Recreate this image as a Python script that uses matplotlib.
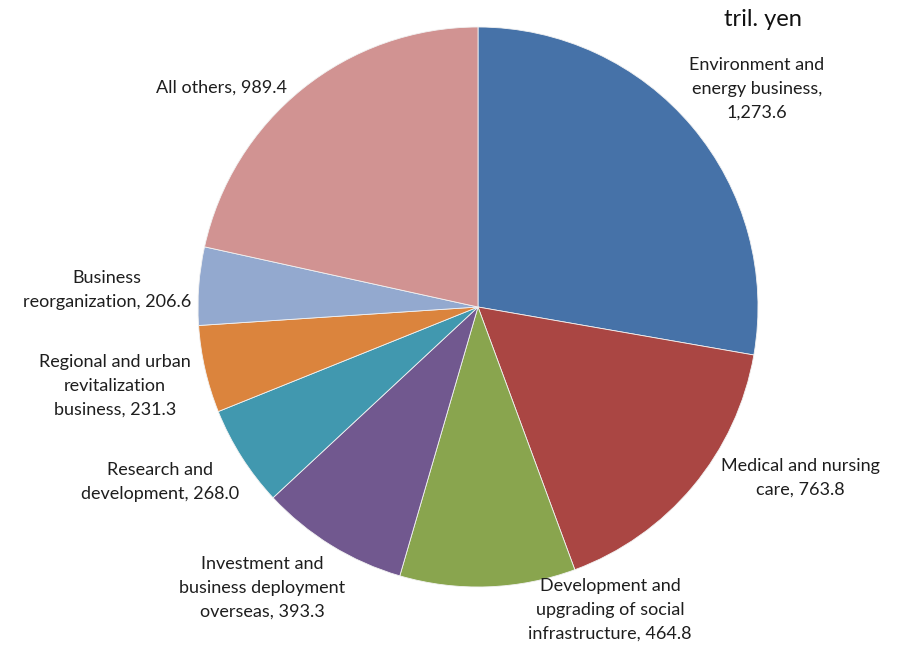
import matplotlib
matplotlib.use("Agg")
import matplotlib.pyplot as plt

# Market size by business field (trillion yen)
categories = [
    "Environment and\nenergy business,\n",
    "Medical and nursing\ncare, ",
    "Development and\nupgrading of social\ninfrastructure, ",
    "Investment and\nbusiness deployment\noverseas, ",
    "Research and\ndevelopment, ",
    "Regional and urban\nrevitalization\nbusiness, ",
    "Business\nreorganization, ",
    "All others, ",
]
values = [1273.6, 763.8, 464.8, 393.3, 268.0, 231.3, 206.6, 989.4]
colors = ["#4672A8", "#AA4643", "#89A54E", "#71588F",
          "#4198AF", "#DB843D", "#93A9CF", "#D19392"]
unit_label = "tril. yen"

# label anchor points (pixel layout, y measured from top)
label_pos = [(757, 89), (800, 478), (610, 610), (262, 588),
             (160, 482), (115, 386), (107, 290), (222, 88)]

W, H = 899, 646
fig = plt.figure(figsize=(W / 100, H / 100), dpi=100)
ax = fig.add_axes([0, 0, 1, 1])

ax.pie(values, colors=colors, startangle=90, counterclock=False,
       center=(478, H - 307), radius=280, frame=True,
       wedgeprops=dict(edgecolor="#f2f2f2", linewidth=0.6))
ax.set_xlim(0, W)
ax.set_ylim(0, H)
ax.set_aspect("equal")
ax.axis("off")

font = ["Lato", "DejaVu Sans"]

for cat, v, (x, y) in zip(categories, values, label_pos):
    ax.text(x, H - y, f"{cat}{v:,.1f}", ha="center", va="center",
            family=font, fontsize=13, color="#1e1e1e", linespacing=1.6)

ax.text(763, H - 20, unit_label, ha="center", va="center", family=font,
        fontsize=17, color="#111111")

fig.savefig("out.png", dpi=100)
